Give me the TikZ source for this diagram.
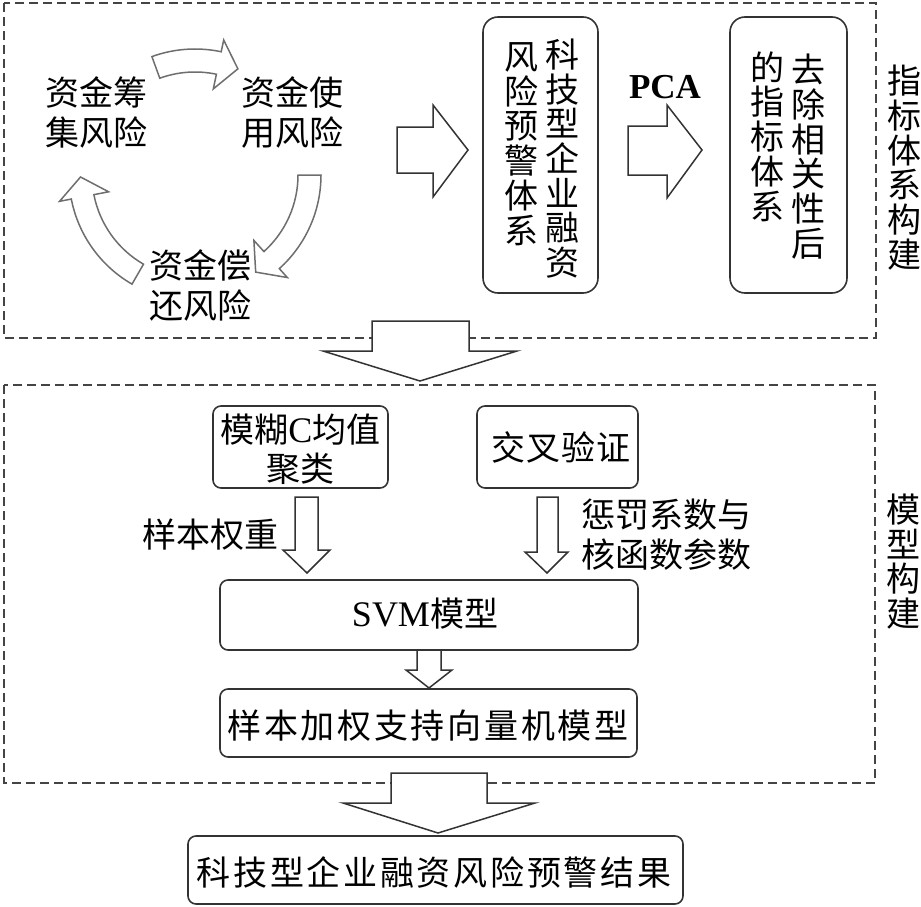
\documentclass[tikz,border=0pt]{standalone}
\usepackage{fontspec}
\setmainfont{Liberation Serif}
\newfontfamily\cjk{Noto Sans CJK SC}
\definecolor{ln}{HTML}{333333}
\definecolor{dl}{HTML}{444444}
\definecolor{cg}{HTML}{6E6E6E}
\tikzset{
 dbox/.style={draw=dl, line width=1.6pt, dash pattern=on 9pt off 5pt},
 rbox/.style={draw=ln, line width=1.6pt, rounded corners=8pt, inner sep=0pt},
 vbox/.style={draw=ln, line width=1.6pt, rounded corners=15pt, inner sep=0pt},
 barrow/.style={draw=ln, fill=white, line width=1.5pt, line join=miter},
 carrow/.style={draw=cg, fill=white, line width=1.5pt, line join=miter},
 cjkt/.style={font=\cjk\fontsize{34pt}{40pt}\selectfont, inner sep=0pt, align=center},
 vcol/.style={font=\cjk\fontsize{34pt}{34.7pt}\selectfont, inner sep=0pt, align=center},
}
\newcommand{\mycurvarrow}[3]{%
 \draw[carrow] (#1:126) arc[start angle=#1, end angle=#2, radius=126] -- (#2:138) -- (#3:114.5) -- (#2:88) -- (#2:103) arc[start angle=#2, end angle=#1, radius=103] -- cycle;}
\begin{document}
\begin{tikzpicture}[x=1pt,y=-1pt]
\useasboundingbox (0,0) rectangle (921,907);
% dashed frames
\draw[dbox] (4,3) rectangle (876,338);
\draw[dbox] (4,385) rectangle (875,783);
% cycle of risks
\begin{scope}[shift={(195,175)}]
 \mycurvarrow{-110}{-78}{-68}
 \mycurvarrow{0}{48}{58}
 \mycurvarrow{120}{169}{179}
\end{scope}
\node[cjkt] (raise) at (96.5,112.5) {资金筹\\集风险};
\node[cjkt] (use) at (292.5,112.5) {资金使\\用风险};
\node[cjkt] (repay) at (200,285) {资金偿\\还风险};
% arrow to system
\draw[barrow] (397,127) -- (433,127) -- (433,105) -- (468,150) -- (433,197) -- (433,173) -- (397,173) -- cycle;
% box 1
\node[vbox, minimum width=115pt, minimum height=276pt] (sys) at (540.5,155) {};
\node[vcol] (sysr) at (562,158.5) {科\\技\\型\\企\\业\\融\\资};
\node[vcol] (sysl) at (521,144) {风\\险\\预\\警\\体\\系};
% PCA
\node[inner sep=0pt, font=\fontsize{35pt}{40pt}\selectfont\bfseries] (pca) at (665,87) {PCA};
\draw[barrow] (628,126) -- (667,126) -- (667,105) -- (702,150) -- (667,198) -- (667,175) -- (628,175) -- cycle;
% box 2
\node[vbox, minimum width=117pt, minimum height=276pt] (dec) at (788.5,155) {};
\node[vcol] (decr) at (808,156.5) {去\\除\\相\\关\\性\\后};
\node[vcol] (decl) at (767,136.5) {的\\指\\标\\体\\系};
\node[vcol] (lab1) at (904,167.5) {指\\标\\体\\系\\构\\建};
% big down arrow 1
\draw[barrow] (372,321) -- (469,321) -- (469,351) -- (517,351) -- (420,381) -- (323,351) -- (372,351) -- cycle;
% model section
\node[rbox, minimum width=175pt, minimum height=82pt] (fcm) at (300.5,447) {};
\node[cjkt, font=\cjk\fontsize{34pt}{39pt}\selectfont] (fcmt) at (300.5,449.5) {模糊{\rmfamily\fontsize{36pt}{39pt}\selectfont C}均值\\聚类};
\node[rbox, minimum width=161pt, minimum height=82pt] (cv) at (557.5,447) {};
\node[cjkt] (cvt) at (561,447) {\addfontfeature{LetterSpace=3}交叉验证};
\draw[barrow] (295,497) -- (318,497) -- (318,550) -- (330,550) -- (307,573) -- (283,550) -- (295,550) -- cycle;
\draw[barrow] (537,497) -- (558,497) -- (558,552) -- (568,552) -- (547,573) -- (525,552) -- (537,552) -- cycle;
\node[cjkt, anchor=east] (wt) at (279,535) {样本权重};
\node[cjkt, anchor=west] (pen) at (581,535) {惩罚系数与\\核函数参数};
\node[rbox, minimum width=418pt, minimum height=70pt] (svm) at (429,615) {};
\node[inner sep=0pt] (svmt) at (425,614) {{\fontsize{36pt}{40pt}\selectfont SVM}{\cjk\fontsize{34pt}{40pt}\selectfont 模型}};
\draw[barrow] (417,650) -- (441,650) -- (441,670) -- (452,670) -- (429,688) -- (406,670) -- (417,670) -- cycle;
\node[rbox, minimum width=417pt, minimum height=68pt] (wsvm) at (428.5,723) {};
\node[cjkt] (wsvmt) at (428,726) {\addfontfeature{LetterSpace=8}样本加权支持向量机模型};
\node[vcol] (lab2) at (903,561.5) {模\\型\\构\\建};
% big down arrow 2
\draw[barrow] (391,773) -- (487,773) -- (487,803) -- (535,803) -- (438,833) -- (343,803) -- (391,803) -- cycle;
\node[rbox, minimum width=495pt, minimum height=68pt] (res) at (435.5,870) {};
\node[cjkt] (rest) at (434,872) {\addfontfeature{LetterSpace=8}科技型企业融资风险预警结果};
\end{tikzpicture}
\end{document}
